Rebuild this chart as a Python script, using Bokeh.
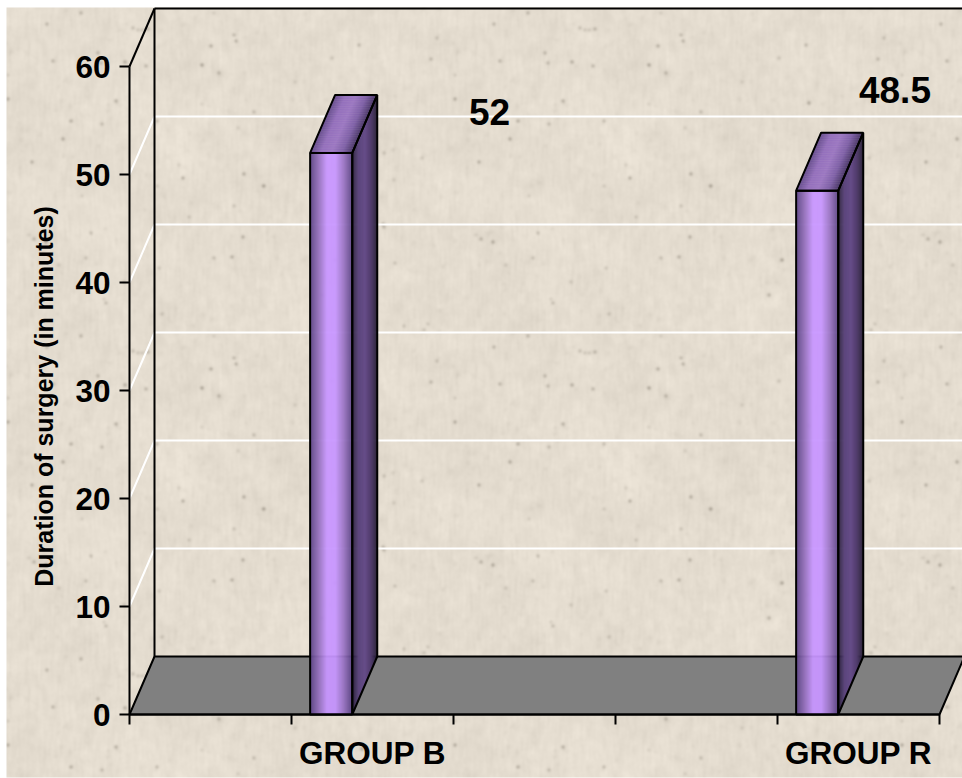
import numpy as np
from bokeh.core.properties import value
from bokeh.embed import file_html
from bokeh.models import FixedTicker, LinearAxis, Range1d
from bokeh.plotting import figure
from bokeh.resources import INLINE

# Chart values
categories = ["", "GROUP B", "", "", "GROUP R"]
durations = [None, 52, None, None, 48.5]
y_ticks = [0, 10, 20, 30, 40, 50, 60]
y_title = "Duration of surgery (in minutes)"

# Canvas and scale set-up
W, H = 962, 778
X0_PX, Y0_PX = 129, 714
SLOT_PX, UNIT_PX = 162, 10.8
DEPTH_X, DEPTH_Y = 25 / SLOT_PX, 58 / UNIT_PX
n_slots = len(categories)
y_max = y_ticks[-1]
FONT = "Liberation Sans"

x_range = Range1d(-X0_PX / SLOT_PX, (W - X0_PX) / SLOT_PX)
y_range = Range1d(-(H - Y0_PX) / UNIT_PX, Y0_PX / UNIT_PX)

p = figure(width=W, height=H, x_range=x_range, y_range=y_range,
           x_axis_type=None, y_axis_type=None, toolbar_location=None,
           output_backend="svg", min_border=0, outline_line_color=None,
           background_fill_color="#FFFFFF", border_fill_color="#FFFFFF")
p.grid.visible = False


# Paper-like wall texture: a repeated tile of soft mottling, short streaks and flecks
def smooth(a, ry, rx=None):
    rx = ry if rx is None else rx
    ky = np.fft.fftfreq(a.shape[0])[:, None]
    kx = np.fft.fftfreq(a.shape[1])[None, :]
    g = np.exp(-2 * np.pi ** 2 * ((ry * ky) ** 2 + (rx * kx) ** 2))
    return np.real(np.fft.ifft2(np.fft.fft2(a) * g))


def unit(a):
    return a / a.std()


rng = np.random.default_rng(7)
tile_h, tile_w = 323, 447
shape = (tile_h, tile_w)
shade = (0.7 * unit(smooth(rng.normal(size=shape), 1.2))
         + 1.4 * unit(smooth(rng.normal(size=shape), 3.5))
         + 1.2 * unit(smooth(rng.normal(size=shape), 5, 1.0))
         + 1.3 * unit(smooth(rng.normal(size=shape), 14)))
flecks = np.zeros(shape)
for _ in range(70):
    flecks[rng.integers(tile_h), rng.integers(tile_w)] = rng.uniform(0.3, 1.0)
shade -= np.clip(smooth(flecks, 1.5) * 620, 0, 80)
faint = np.zeros(shape)
for _ in range(300):
    faint[rng.integers(tile_h), rng.integers(tile_w)] = rng.uniform(0.3, 1.0)
shade -= np.clip(smooth(faint, 1.8) * 130, 0, 16)

TEX_LEFT, TEX_TOP, TEX_BOTTOM = 6, 7, 777
tex_w, tex_h = W - TEX_LEFT, TEX_BOTTOM - TEX_TOP
shade = np.tile(shade, (tex_h // tile_h + 1, tex_w // tile_w + 1))[:tex_h, :tex_w]
rgba = np.empty((tex_h, tex_w), dtype=np.uint32)
view = rgba.view(np.uint8).reshape(tex_h, tex_w, 4)
for c, base in enumerate((229, 221, 208)):
    view[..., c] = np.clip(base + shade, 0, 255).astype(np.uint8)
view[..., 3] = 255
p.image_rgba(image=[rgba], x=(TEX_LEFT - X0_PX) / SLOT_PX, y=(Y0_PX - TEX_BOTTOM) / UNIT_PX,
             dw=tex_w / SLOT_PX, dh=tex_h / UNIT_PX)

# White gridlines across the back wall and down the side wall
for v in y_ticks[1:-1]:
    p.line([0, DEPTH_X, x_range.end], [v, v + DEPTH_Y, v + DEPTH_Y],
           line_color="#FFFFFF", line_width=2)

# Back wall outline and side wall edge
p.line([DEPTH_X, DEPTH_X], [DEPTH_Y, y_max + DEPTH_Y], line_color="black", line_width=2)
p.line([DEPTH_X, x_range.end], [y_max + DEPTH_Y] * 2, line_color="black", line_width=2)
p.line([0, DEPTH_X], [y_max, y_max + DEPTH_Y], line_color="black", line_width=2)

# Grey floor
p.patch([0, n_slots, n_slots + DEPTH_X, DEPTH_X], [0, 0, DEPTH_Y, DEPTH_Y],
        fill_color="#808080", line_color="black", line_width=2)


def ramp(stops, t):
    stops = np.array(stops, dtype=float)
    pos = np.linspace(0, 1, len(stops))
    return "#%02x%02x%02x" % tuple(int(round(np.interp(t, pos, stops[:, c]))) for c in range(3))


front_stops = [(0x5c, 0x44, 0x84), (0x94, 0x70, 0xbc), (0xc8, 0x96, 0xff), (0xc8, 0x96, 0xff),
               (0x9a, 0x74, 0xc4), (0x5c, 0x44, 0x84)]
side_stops = [(0x28, 0x1c, 0x3a), (0x5c, 0x46, 0x7c), (0x66, 0x4c, 0x88), (0x50, 0x3c, 0x6c),
              (0x20, 0x18, 0x2e)]
top_stops = [(0x66, 0x4e, 0x8c), (0x94, 0x70, 0xbc), (0x9c, 0x78, 0xc2), (0x80, 0x62, 0xa8),
             (0x48, 0x36, 0x64)]

# Each bar is a shaded prism: front, top and side faces built from thin strips
BAR_OFFSET, BAR_WIDTH = 0.115, 0.26
STRIPS = 42
for slot, v in enumerate(durations):
    if v is None:
        continue
    x0 = slot + BAR_OFFSET
    x1 = x0 + BAR_WIDTH
    edges = np.linspace(x0, x1, STRIPS + 1)
    step = edges[1] - edges[0]
    for i in range(STRIPS):
        t = (i + 0.5) / STRIPS
        a, b = edges[i], min(edges[i + 1] + step * 0.5, x1)
        p.patch([a, b, b, a], [0, 0, v, v], fill_color=ramp(front_stops, t), line_color=None)
        p.patch([a, b, b + DEPTH_X, a + DEPTH_X], [v, v, v + DEPTH_Y, v + DEPTH_Y],
                fill_color=ramp(top_stops, t), line_color=None)
    side_edges = np.linspace(0, 1, 27)
    for i in range(26):
        t = (i + 0.5) / 26
        a, b = side_edges[i], min(side_edges[i + 1] + 0.02, 1)
        xs = [x1 + a * DEPTH_X, x1 + b * DEPTH_X, x1 + b * DEPTH_X, x1 + a * DEPTH_X]
        ys = [a * DEPTH_Y, b * DEPTH_Y, v + b * DEPTH_Y, v + a * DEPTH_Y]
        p.patch(xs, ys, fill_color=ramp(side_stops, t), line_color=None)
    # Face outlines
    p.patch([x0, x1, x1, x0], [0, 0, v, v], fill_color=None, line_color="black", line_width=2)
    p.patch([x0, x1, x1 + DEPTH_X, x0 + DEPTH_X], [v, v, v + DEPTH_Y, v + DEPTH_Y],
            fill_color=None, line_color="black", line_width=2)
    p.patch([x1, x1 + DEPTH_X, x1 + DEPTH_X, x1], [0, DEPTH_Y, v + DEPTH_Y, v],
            fill_color=None, line_color="black", line_width=2)

# Value labels sit at their own hand-placed spots above the bars
label_spots = {1: (2.222, 55.8), 4: (4.725, 57.8)}
for slot, (lx, ly) in label_spots.items():
    v = durations[slot]
    p.text([lx], [ly], text=[f"{v:g}"], text_font=value(FONT),
           text_font_style="bold", text_font_size="37px", text_color="black",
           text_align="center", text_baseline="middle")

# Rotated title for the value axis
p.text([(43 - X0_PX) / SLOT_PX], [(Y0_PX - 396) / UNIT_PX], text=[y_title],
       text_font=value(FONT), text_font_style="bold", text_font_size="25px",
       text_color="black", text_align="center", text_baseline="middle", angle=np.pi / 2)

# Value axis
y_axis = LinearAxis(ticker=FixedTicker(ticks=y_ticks), bounds=(0, y_max), fixed_location=0,
                    major_label_text_font=FONT, major_label_text_font_style="bold",
                    major_label_text_font_size="31.5px", major_label_text_color="black",
                    major_label_standoff=9,
                    axis_line_width=2, major_tick_line_width=2, major_tick_in=0,
                    major_tick_out=10, minor_tick_line_color=None)
p.add_layout(y_axis, "left")

# Category axis: names centred in their slots, tick marks on the slot boundaries
named = [i for i, c in enumerate(categories) if c]
x_axis = LinearAxis(ticker=FixedTicker(ticks=[i + 0.5 for i in named],
                                       minor_ticks=list(range(n_slots + 1))),
                    bounds=(0, n_slots), fixed_location=0, axis_line_width=2,
                    major_tick_line_color=None, major_tick_in=0, major_tick_out=0,
                    minor_tick_line_color="black", minor_tick_line_width=2,
                    minor_tick_in=0, minor_tick_out=10,
                    major_label_overrides={i + 0.5: categories[i] for i in named},
                    major_label_standoff=10, major_label_text_font=FONT,
                    major_label_text_font_style="bold", major_label_text_font_size="31.5px",
                    major_label_text_color="black")
p.add_layout(x_axis, "below")

open("out.html", "w").write(file_html(p, INLINE))
